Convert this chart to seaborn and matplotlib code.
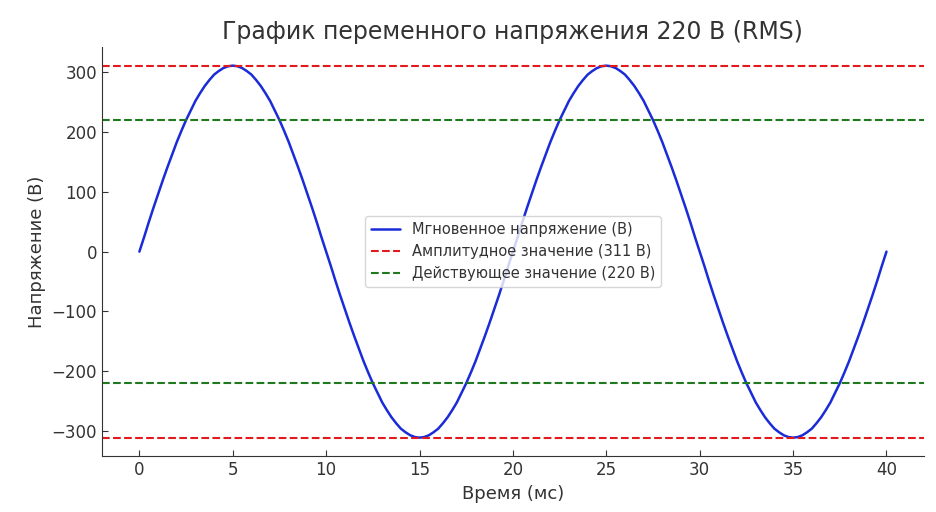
import numpy as np
import pandas as pd
import matplotlib
matplotlib.use('Agg')
import matplotlib.pyplot as plt
import seaborn as sns

# ------------------------
# Данные (шаг 0.25 мс)
# ------------------------
time_ms = np.arange(0, 40.25, 0.25)
voltage = [
    0, 24, 49, 73, 96, 119, 141, 162, 183, 202, 220, 236, 252, 265, 277, 287, 296, 302, 307, 310,
    311, 310, 307, 302, 296, 287, 277, 265, 252, 236, 220, 202, 183, 162, 141, 119, 96, 73, 49, 24,
    0, -24, -49, -73, -96, -119, -141, -162, -183, -202, -220, -236, -252, -265, -277, -287, -296, -302, -307, -310,
    -311, -310, -307, -302, -296, -287, -277, -265, -252, -236, -220, -202, -183, -162, -141, -119, -96, -73, -49, -24,
    0, 24, 49, 73, 96, 119, 141, 162, 183, 202, 220, 236, 252, 265, 277, 287, 296, 302, 307, 310,
    311, 310, 307, 302, 296, 287, 277, 265, 252, 236, 220, 202, 183, 162, 141, 119, 96, 73, 49, 24,
    0, -24, -49, -73, -96, -119, -141, -162, -183, -202, -220, -236, -252, -265, -277, -287, -296, -302, -307, -310,
    -311, -310, -307, -302, -296, -287, -277, -265, -252, -236, -220, -202, -183, -162, -141, -119, -96, -73, -49, -24,
    0,
]
amplitude = 311
rms = 220

df = pd.DataFrame({'t': time_ms, 'v': voltage})

# ------------------------
# Стиль
# ------------------------
sns.set_style('ticks')
text_color = '#333333'
plt.rcParams.update({
    'font.family': ['DejaVu Sans'],
    'text.color': text_color,
    'axes.labelcolor': text_color,
    'xtick.color': text_color,
    'ytick.color': text_color,
    'axes.edgecolor': text_color,
    'xtick.direction': 'in',
    'ytick.direction': 'in',
})

fig = plt.figure(figsize=(9.36, 5.12), dpi=100)
ax = fig.add_axes([0.109, 0.109, 0.878, 0.799])

sns.lineplot(data=df, x='t', y='v', ax=ax, color='#1a2bd8', linewidth=1.8,
             label='Мгновенное напряжение (В)')
ax.axhline(amplitude, color='#e31a1c', linestyle='--', linewidth=1.5,
           label=f'Амплитудное значение ({amplitude} В)')
ax.axhline(-amplitude, color='#e31a1c', linestyle='--', linewidth=1.5)
ax.axhline(rms, color='#1f7a1f', linestyle='--', linewidth=1.5,
           label=f'Действующее значение ({rms} В)')
ax.axhline(-rms, color='#1f7a1f', linestyle='--', linewidth=1.5)

ax.set_xlim(-2, 42)
ax.set_ylim(-342, 342)
ax.set_xticks([0, 5, 10, 15, 20, 25, 30, 35, 40])
ax.set_yticks([-300, -200, -100, 0, 100, 200, 300])
ax.tick_params(labelsize=12, length=4)

ax.set_title('График переменного напряжения 220 В (RMS)', fontsize=17, pad=6)
ax.set_xlabel('Время (мс)', fontsize=13)
ax.set_ylabel('Напряжение (В)', fontsize=13)
sns.despine(ax=ax)

ax.legend(loc='center', fontsize=10.5, frameon=True, edgecolor='#cccccc')

plt.savefig('out.png', dpi=100)
plt.close()
